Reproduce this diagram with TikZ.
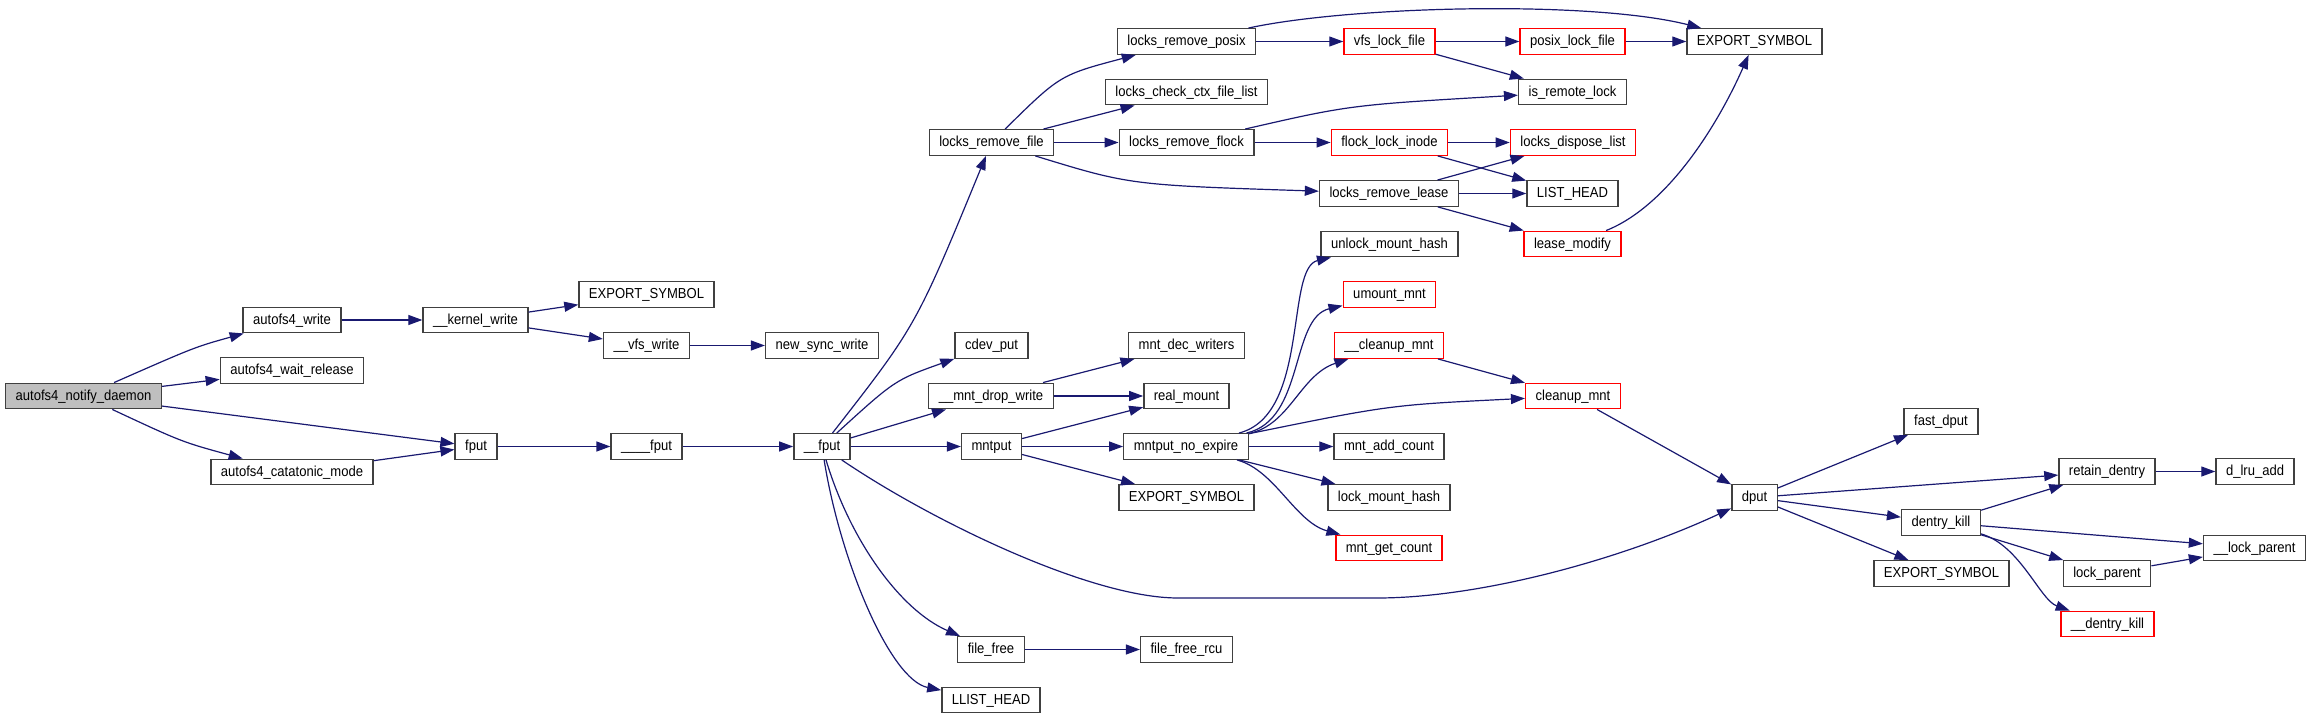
\documentclass[tikz,border=0pt]{standalone}
\usepackage{fontspec}
\setmainfont[FakeStretch=0.9]{Liberation Sans}
\usepackage{tikz}
\usetikzlibrary{arrows.meta}
\definecolor{EdgeBlue}{RGB}{25,25,112}
\definecolor{FrameGray}{RGB}{64,64,64}
\definecolor{RootGray}{RGB}{191,191,191}
\definecolor{LinkRed}{RGB}{255,0,0}

\begin{document}
\begin{tikzpicture}[
    x=1pt, y=-1pt,
    fn/.style={rectangle, draw=FrameGray, fill=white, line width=1.4pt, minimum height=25.5pt, inner xsep=10pt, inner ysep=0pt, text height=11pt, text depth=2.6pt, font=\fontsize{14.5}{16}\selectfont},
    fnred/.style={fn, draw=LinkRed},
    root/.style={fn, fill=RootGray},
    call/.style={-{Triangle[length=14pt,width=10pt]}, color=EdgeBlue, line width=1.2pt}
]
\useasboundingbox (0,0) rectangle (2312,719);

\node[root] (daemon) at (83.5,396) {autofs4\_notify\_daemon};
\node[fn] (aw) at (292,320) {autofs4\_write};
\node[fn] (awr) at (292,370.5) {autofs4\_wait\_release};
\node[fn] (acm) at (292,472) {autofs4\_catatonic\_mode};
\node[fn] (kw) at (475.5,320) {\_\_kernel\_write};
\node[fn] (fput) at (476,446.5) {fput};
\node[fn] (es1) at (646.5,294.5) {EXPORT\_SYMBOL};
\node[fn] (vfsw) at (646.5,345.5) {\_\_vfs\_write};
\node[fn] (fput4) at (646.5,446.5) {\_\_\_\_fput};
\node[fn] (nsw) at (822,345.5) {new\_sync\_write};
\node[fn] (ufput) at (822,446.5) {\_\_fput};
\node[fn] (lrf) at (991.5,142.5) {locks\_remove\_file};
\node[fn] (cdev) at (991.5,345.5) {cdev\_put};
\node[fn] (mdw) at (991,396) {\_\_mnt\_drop\_write};
\node[fn] (mntput) at (991.5,446.5) {mntput};
\node[fn] (ffree) at (991,649.5) {file\_free};
\node[fn] (llh) at (991,700) {LLIST\_HEAD};
\node[fn] (lrp) at (1186.5,41.5) {locks\_remove\_posix};
\node[fn] (lcc) at (1186.5,92) {locks\_check\_ctx\_file\_list};
\node[fn] (lrfl) at (1186.5,142.5) {locks\_remove\_flock};
\node[fn] (mdwr) at (1186.5,345.5) {mnt\_dec\_writers};
\node[fn] (rmnt) at (1186.5,396) {real\_mount};
\node[fn] (mne) at (1186,446.5) {mntput\_no\_expire};
\node[fn] (es2) at (1186.5,497.5) {EXPORT\_SYMBOL};
\node[fn] (ffrcu) at (1186.5,649.5) {file\_free\_rcu};
\node[fnred] (vlf) at (1389.5,41.5) {vfs\_lock\_file};
\node[fnred] (fli) at (1389.5,142.5) {flock\_lock\_inode};
\node[fn] (lrl) at (1389,193.5) {locks\_remove\_lease};
\node[fn] (umh) at (1389.5,244) {unlock\_mount\_hash};
\node[fnred] (umnt) at (1389.5,294.5) {umount\_mnt};
\node[fnred] (ccmnt) at (1389,345.5) {\_\_cleanup\_mnt};
\node[fn] (mac) at (1389,446.5) {mnt\_add\_count};
\node[fn] (lmh) at (1389,497.5) {lock\_mount\_hash};
\node[fnred] (mgc) at (1389,548) {mnt\_get\_count};
\node[fnred] (plf) at (1572.5,41.5) {posix\_lock\_file};
\node[fn] (irl) at (1572.5,92) {is\_remote\_lock};
\node[fnred] (ldl) at (1573,142.5) {locks\_dispose\_list};
\node[fn] (lh) at (1572.5,193.5) {LIST\_HEAD};
\node[fnred] (lm) at (1572.5,244) {lease\_modify};
\node[fnred] (cmnt) at (1573,396) {cleanup\_mnt};
\node[fn] (es3) at (1754.5,41.5) {EXPORT\_SYMBOL};
\node[fn] (dput) at (1754.5,497.5) {dput};
\node[fn] (fdput) at (1941,421.5) {fast\_dput};
\node[fn] (dk) at (1941,522.5) {dentry\_kill};
\node[fn] (es4) at (1941.5,573.5) {EXPORT\_SYMBOL};
\node[fn] (rd) at (2107,471.5) {retain\_dentry};
\node[fn] (lp) at (2107,573.5) {lock\_parent};
\node[fnred] (udk) at (2107.5,624) {\_\_dentry\_kill};
\node[fn] (dlru) at (2255,471.5) {d\_lru\_add};
\node[fn] (ulp) at (2254.5,548) {\_\_lock\_parent};

\draw[call] (daemon) .. controls (195,347) .. (aw);
\draw[call] (daemon) -- (awr);
\draw[call] (daemon) -- (fput);
\draw[call] (daemon) .. controls (182,442) .. (acm);
\draw[call] (aw) -- (kw);
\draw[call] (acm) -- (fput);
\draw[call] (kw) -- (es1);
\draw[call] (kw) -- (vfsw);
\draw[call] (vfsw) -- (nsw);
\draw[call] (fput) -- (fput4);
\draw[call] (fput4) -- (ufput);
\draw[call] (ufput) .. controls (916,326) .. (lrf);
\draw[call] (ufput) .. controls (895,380) .. (cdev);
\draw[call] (ufput) -- (mdw);
\draw[call] (ufput) -- (mntput);
\draw[call] (ufput) .. controls (930,520) and (1090,598) .. (1178,598) -- (1377,598) .. controls (1480,598) and (1620,560) .. (dput);
\draw[call] (ufput) .. controls (850,540) and (900,610) .. (ffree);
\draw[call] (ufput) .. controls (840,560) and (890,680) .. (llh);
\draw[call] (lrf) .. controls (1060,75) .. (lrp);
\draw[call] (lrf) -- (lcc);
\draw[call] (lrf) -- (lrfl);
\draw[call] (lrf) .. controls (1130,185) .. (lrl);
\draw[call] (lrp) -- (vlf);
\draw[call] (lrp) .. controls (1350,6) and (1590,0) .. (es3);
\draw[call] (vlf) -- (plf);
\draw[call] (vlf) -- (irl);
\draw[call] (plf) -- (es3);
\draw[call] (lrfl) .. controls (1350,105) .. (irl);
\draw[call] (lrfl) -- (fli);
\draw[call] (fli) -- (ldl);
\draw[call] (fli) -- (lh);
\draw[call] (lrl) -- (ldl);
\draw[call] (lrl) -- (lh);
\draw[call] (lrl) -- (lm);
\draw[call] (lm) .. controls (1670,205) and (1720,120) .. (es3);
\draw[call] (mdw) -- (mdwr);
\draw[call] (mdw) -- (rmnt);
\draw[call] (mntput) -- (rmnt);
\draw[call] (mntput) -- (mne);
\draw[call] (mntput) -- (es2);
\draw[call] (mne) .. controls (1310,415) and (1285,268) .. (umh);
\draw[call] (mne) .. controls (1305,420) and (1290,318) .. (umnt);
\draw[call] (mne) .. controls (1290,425) and (1300,375) .. (ccmnt);
\draw[call] (mne) .. controls (1390,405) .. (cmnt);
\draw[call] (mne) -- (mac);
\draw[call] (mne) -- (lmh);
\draw[call] (mne) .. controls (1275,470) and (1295,522) .. (mgc);
\draw[call] (ccmnt) -- (cmnt);
\draw[call] (cmnt) -- (dput);
\draw[call] (ffree) -- (ffrcu);
\draw[call] (dput) -- (fdput);
\draw[call] (dput) -- (rd);
\draw[call] (dput) -- (dk);
\draw[call] (dput) -- (es4);
\draw[call] (dk) -- (rd);
\draw[call] (dk) -- (ulp);
\draw[call] (dk) -- (lp);
\draw[call] (dk) .. controls (2020,545) and (2040,600) .. (udk);
\draw[call] (lp) -- (ulp);
\draw[call] (rd) -- (dlru);
\end{tikzpicture}
\end{document}
